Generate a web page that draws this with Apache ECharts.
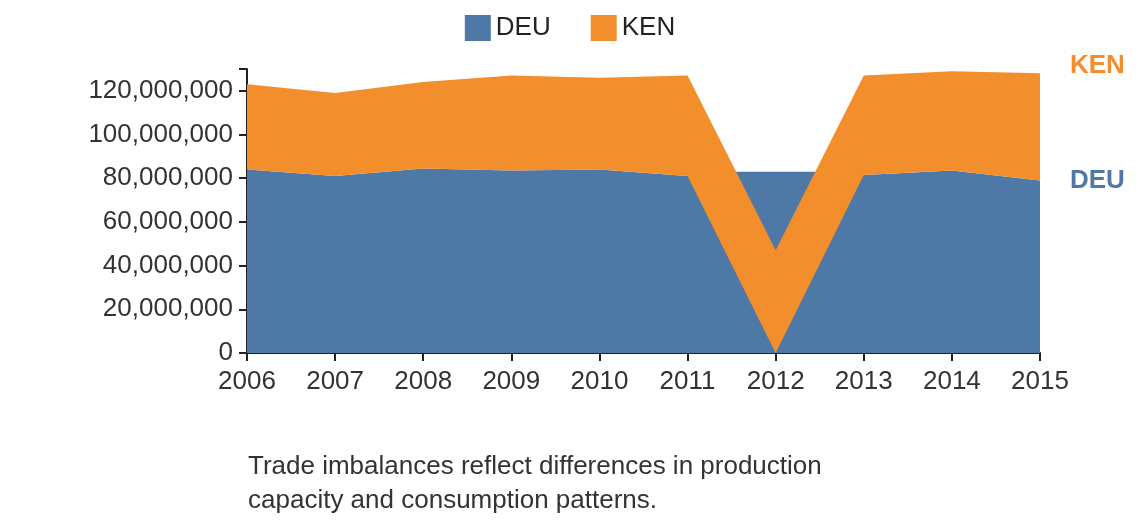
<!DOCTYPE html><html><head><meta charset="utf-8"><script src="https://cdn.jsdelivr.net/npm/echarts@6/dist/echarts.min.js"></script></head><body style="margin:0"><div id="c" style="width:1140px;height:528px"></div><script>
const years=['2006','2007','2008','2009','2010','2011','2012','2013','2014','2015'];
const deu=[84e6,81e6,84.5e6,83.5e6,84e6,81e6,0,81.5e6,83.5e6,79e6];
const ken=[39e6,38e6,39.5e6,43.5e6,42e6,46e6,47e6,45.5e6,45.5e6,49e6];
const deuGap=[null,null,null,null,null,83e6,83e6,83e6,null,null];
const ch=echarts.init(document.getElementById('c'));
const ff='Liberation Sans, Arial, sans-serif';
ch.setOption({animation:false,textStyle:{fontFamily:ff},
legend:{data:['DEU','KEN'],top:10,left:'center',itemWidth:26,itemHeight:26,itemGap:40,icon:'rect',textStyle:{fontSize:26,color:'#222'}},
grid:{left:247,right:100,top:69,bottom:175},
xAxis:{type:'category',boundaryGap:false,data:years,axisLine:{lineStyle:{color:'#222',width:2}},axisTick:{length:8,lineStyle:{color:'#222',width:2}},axisLabel:{fontSize:26,color:'#333',margin:16}},
yAxis:{type:'value',min:0,max:130e6,interval:20e6,splitLine:{show:false},axisLine:{show:true,lineStyle:{color:'#222',width:2}},axisTick:{show:true,length:8,lineStyle:{color:'#222',width:2}},axisLabel:{fontSize:26,color:'#333',margin:14,formatter:v=>v>125e6?'':v.toLocaleString('en-US')}},
graphic:[{type:'text',left:248,top:450,style:{text:'Trade imbalances reflect differences in production\ncapacity and consumption patterns.',fontSize:26,fill:'#333',fontFamily:ff,lineHeight:34}}],
series:[
{name:'gap',type:'line',data:deuGap,symbol:'none',lineStyle:{width:0},areaStyle:{color:'#4e79a7',opacity:1},z:1,silent:true},
{name:'DEU',type:'line',stack:'t',data:deu,symbol:'none',color:'#4e79a7',lineStyle:{width:0},areaStyle:{color:'#4e79a7',opacity:1},z:2,endLabel:{show:true,formatter:'DEU',fontSize:26,fontWeight:'bold',color:'#4e79a7',distance:30}},
{name:'KEN',type:'line',stack:'t',data:ken,symbol:'none',color:'#f28e2b',lineStyle:{width:0},areaStyle:{color:'#f28e2b',opacity:1},z:3,endLabel:{show:true,formatter:'KEN',fontSize:26,fontWeight:'bold',color:'#f28e2b',distance:30,offset:[0,-8]}}
]});
</script></body></html>
